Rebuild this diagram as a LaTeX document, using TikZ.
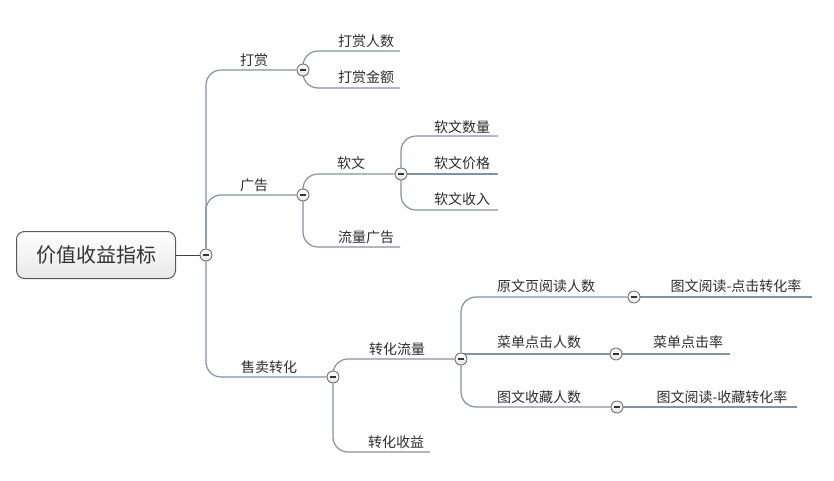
\documentclass[tikz,border=0pt]{standalone}
\usepackage{fontspec}
\setmainfont{Noto Sans CJK SC}
\usepackage{tikz}
\usetikzlibrary{positioning}
\usetikzlibrary{backgrounds}
\usetikzlibrary{calc}
\definecolor{lineblue}{RGB}{128,146,166}
\definecolor{inkgray}{RGB}{45,45,45}

\begin{document}
\begin{tikzpicture}[x=1pt, y=-1pt,
    topic/.style={font=\fontsize{14}{16}\selectfont, text=inkgray, inner sep=0pt},
    root/.style={draw=black!65, line width=1pt, rounded corners=8pt, top color=white, bottom color=black!9,
        minimum width=159pt, minimum height=47pt, font=\fontsize{20}{22}\selectfont, text=black!80},
    fold/.style={circle, draw=black!55, line width=0.9pt, top color=white, bottom color=black!10,
        minimum size=12pt, inner sep=0pt,
        path picture={\draw[black!80, line width=1.3pt] ($(path picture bounding box.center)+(-3pt,0)$) -- ($(path picture bounding box.center)+(3pt,0)$);}},
    branch/.style={draw=lineblue, line width=1.2pt, rounded corners=15pt},
    rootline/.style={draw=black!75, line width=1pt}]
    \useasboundingbox (0,0) rectangle (834,480);
    \node[root] (root) at (96,255) {价值收益指标};
    \node[fold] (c0) at (206,255) {};

    \node[topic] (ds) at (254,60) {打赏};
    \node[fold] (c-ds) at (303,70) {};
    \node[topic] (ds-rs) at (366,41) {打赏人数};
    \coordinate (e-ds-rs) at (400,51);
    \node[topic] (ds-je) at (366,77) {打赏金额};
    \coordinate (e-ds-je) at (400,88);

    \node[topic] (gg) at (254,185) {广告};
    \node[fold] (c-gg) at (303,195) {};
    \node[topic] (rw) at (351,163) {软文};
    \node[fold] (c-rw) at (401,174) {};
    \node[topic] (rw-sl) at (462,127) {软文数量};
    \coordinate (e-rw-sl) at (498,136);
    \node[topic] (rw-jg) at (462,163) {软文价格};
    \coordinate (e-rw-jg) at (498,174);
    \node[topic] (rw-sr) at (462,199) {软文收入};
    \coordinate (e-rw-sr) at (498,210);
    \node[topic] (llgg) at (366,237) {流量广告};
    \coordinate (e-llgg) at (400,247);

    \node[topic] (sm) at (269,367) {售卖转化};
    \node[fold] (c-sm) at (333,377) {};
    \node[topic] (ll) at (397,349) {转化流量};
    \node[fold] (c-ll) at (461,359) {};
    \node[topic] (sy) at (396,442) {转化收益};
    \coordinate (e-sy) at (430,452);

    \node[topic] (yw) at (546,286) {原文页阅读人数};
    \node[fold] (c-yw) at (634,297) {};
    \node[topic] (yw-zh) at (736,286) {图文阅读-点击转化率};
    \coordinate (e-yw-zh) at (812,297);
    \node[topic] (cd) at (539,342) {菜单点击人数};
    \node[fold] (c-cd) at (616,354) {};
    \node[topic] (cd-l) at (688,342) {菜单点击率};
    \coordinate (e-cd-l) at (730,354);
    \node[topic] (sc) at (539,397) {图文收藏人数};
    \node[fold] (c-sc) at (617,407) {};
    \node[topic] (sc-zh) at (722,397) {图文阅读-收藏转化率};
    \coordinate (e-sc-zh) at (797,407);

    \begin{scope}[on background layer]
    \draw[rootline] (root) -- (c0);
    \draw[branch] (c0) |- (c-ds);
    \draw[branch] (c0) |- (c-gg);
    \draw[branch] (c0) |- (c-sm);
    \draw[branch] (c-ds) |- (e-ds-rs);
    \draw[branch] (c-ds) |- (e-ds-je);
    \draw[branch] (c-gg) |- (c-rw);
    \draw[branch] (c-gg) |- (e-llgg);
    \draw[branch] (c-rw) |- (e-rw-sl);
    \draw[branch] (c-rw) -- (e-rw-jg);
    \draw[branch] (c-rw) |- (e-rw-sr);
    \draw[branch] (c-sm) |- (c-ll);
    \draw[branch] (c-sm) |- (e-sy);
    \draw[branch] (c-ll) |- (c-yw);
    \draw[branch] (c-ll.center |- c-cd.center) -- (c-cd);
    \draw[branch] (c-ll) |- (c-sc);
    \draw[branch] (c-yw) -- (e-yw-zh);
    \draw[branch] (c-cd) -- (e-cd-l);
    \draw[branch] (c-sc) -- (e-sc-zh);
    \end{scope}
\end{tikzpicture}
\end{document}
